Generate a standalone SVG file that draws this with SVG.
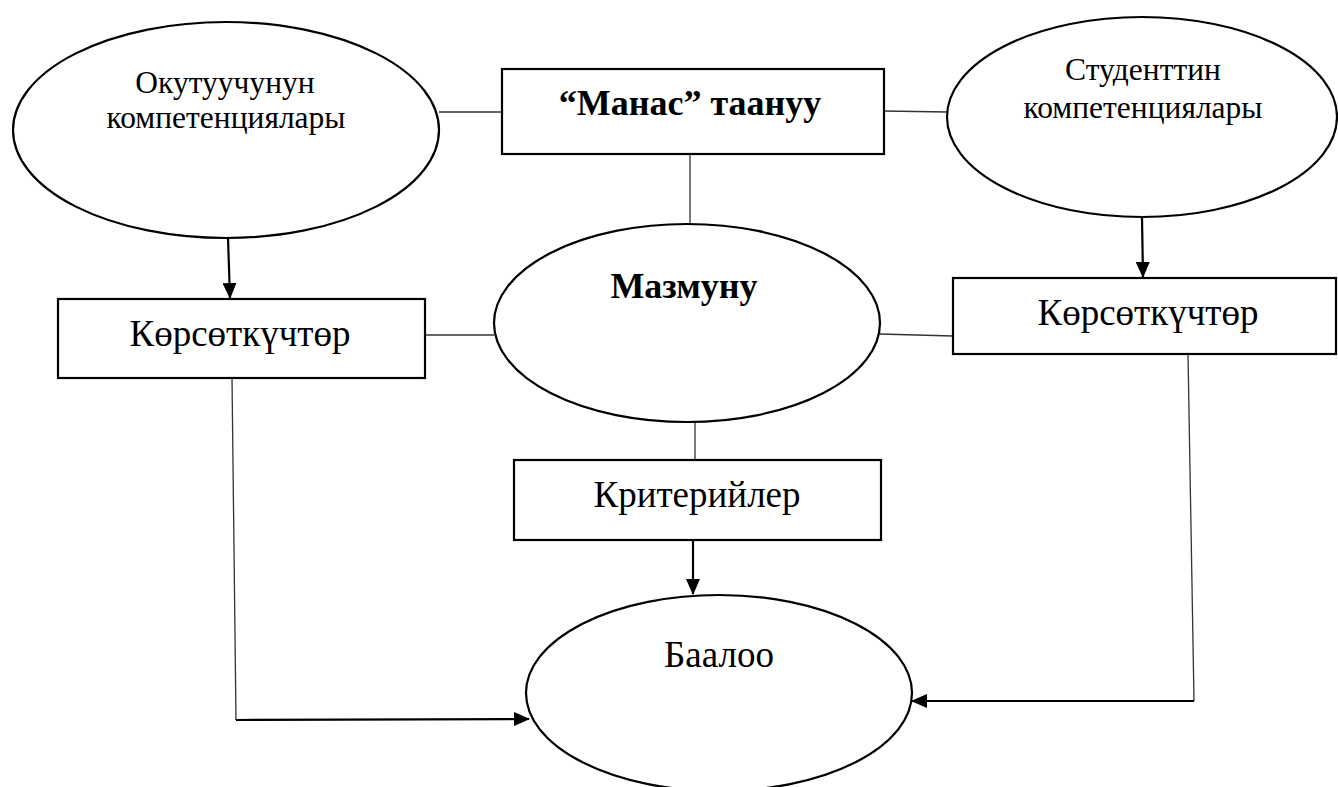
<svg xmlns="http://www.w3.org/2000/svg" width="1338" height="787" viewBox="0 0 1338 787">
<style>
.shape{fill:#fff;stroke:#000;stroke-width:2.2}
.thin{fill:none;stroke:#333;stroke-width:1.3}
.thick{fill:none;stroke:#000;stroke-width:2.2}
.t{font-family:"Liberation Serif","DejaVu Serif","Times New Roman",serif;fill:#000;text-anchor:middle}
.s{font-size:31.5px}
.m{font-size:37px}
.b{font-size:36px;font-weight:bold}
</style>
<defs>
<marker id="ah" markerUnits="userSpaceOnUse" markerWidth="16" markerHeight="14" refX="15" refY="7" orient="auto">
<path d="M0,0 L16,7 L0,14 Z" fill="#000"/>
</marker>
</defs>
<g id="connectors">
<line class="thin" x1="439" y1="112" x2="502" y2="112"/>
<line class="thin" x1="884" y1="111" x2="947" y2="112"/>
<line class="thin" x1="690" y1="154" x2="690" y2="224"/>
<line class="thin" x1="424" y1="335" x2="494" y2="335"/>
<line class="thin" x1="880" y1="334" x2="953" y2="336"/>
<line class="thin" x1="695" y1="422" x2="695" y2="460"/>
<line class="thick" x1="228" y1="238" x2="230" y2="298" marker-end="url(#ah)"/>
<line class="thick" x1="1142" y1="217" x2="1143" y2="277" marker-end="url(#ah)"/>
<line class="thick" x1="693" y1="540" x2="693" y2="594" marker-end="url(#ah)"/>
<line class="thin" x1="232" y1="378" x2="236" y2="720"/>
<line class="thick" x1="236" y1="720" x2="529" y2="719" marker-end="url(#ah)"/>
<line class="thin" x1="1188" y1="354" x2="1194" y2="701"/>
<line class="thick" x1="1194" y1="701" x2="912" y2="701" marker-end="url(#ah)"/>
</g>
<g id="node-teacher">
<ellipse class="shape" cx="226" cy="130" rx="213" ry="108"/>
<text class="t s" x="225" y="93">Окутуучунун</text>
<text class="t s" x="226" y="128">компетенциялары</text>
</g>
<g id="node-manas">
<rect class="shape" x="502" y="69" width="382" height="85"/>
<text class="t b" x="690" y="115">“Манас” таануу</text>
</g>
<g id="node-student">
<ellipse class="shape" cx="1142" cy="117" rx="195" ry="100"/>
<text class="t s" x="1143" y="80">Студенттин</text>
<text class="t s" x="1143" y="118">компетенциялары</text>
</g>
<g id="node-content">
<ellipse class="shape" cx="687" cy="323" rx="193" ry="99"/>
<text class="t b" x="684" y="298">Мазмуну</text>
</g>
<g id="node-indicators-left">
<rect class="shape" x="58" y="299" width="367" height="79"/>
<text class="t m" x="240" y="346">Көрсөткүчтөр</text>
</g>
<g id="node-indicators-right">
<rect class="shape" x="953" y="278" width="383" height="76"/>
<text class="t m" x="1148" y="325">Көрсөткүчтөр</text>
</g>
<g id="node-criteria">
<rect class="shape" x="514" y="460" width="367" height="80"/>
<text class="t m" x="697" y="507">Критерийлер</text>
</g>
<g id="node-assessment">
<ellipse class="shape" cx="719" cy="693" rx="193" ry="98"/>
<text class="t m" x="719" y="667">Баалоо</text>
</g>
</svg>
